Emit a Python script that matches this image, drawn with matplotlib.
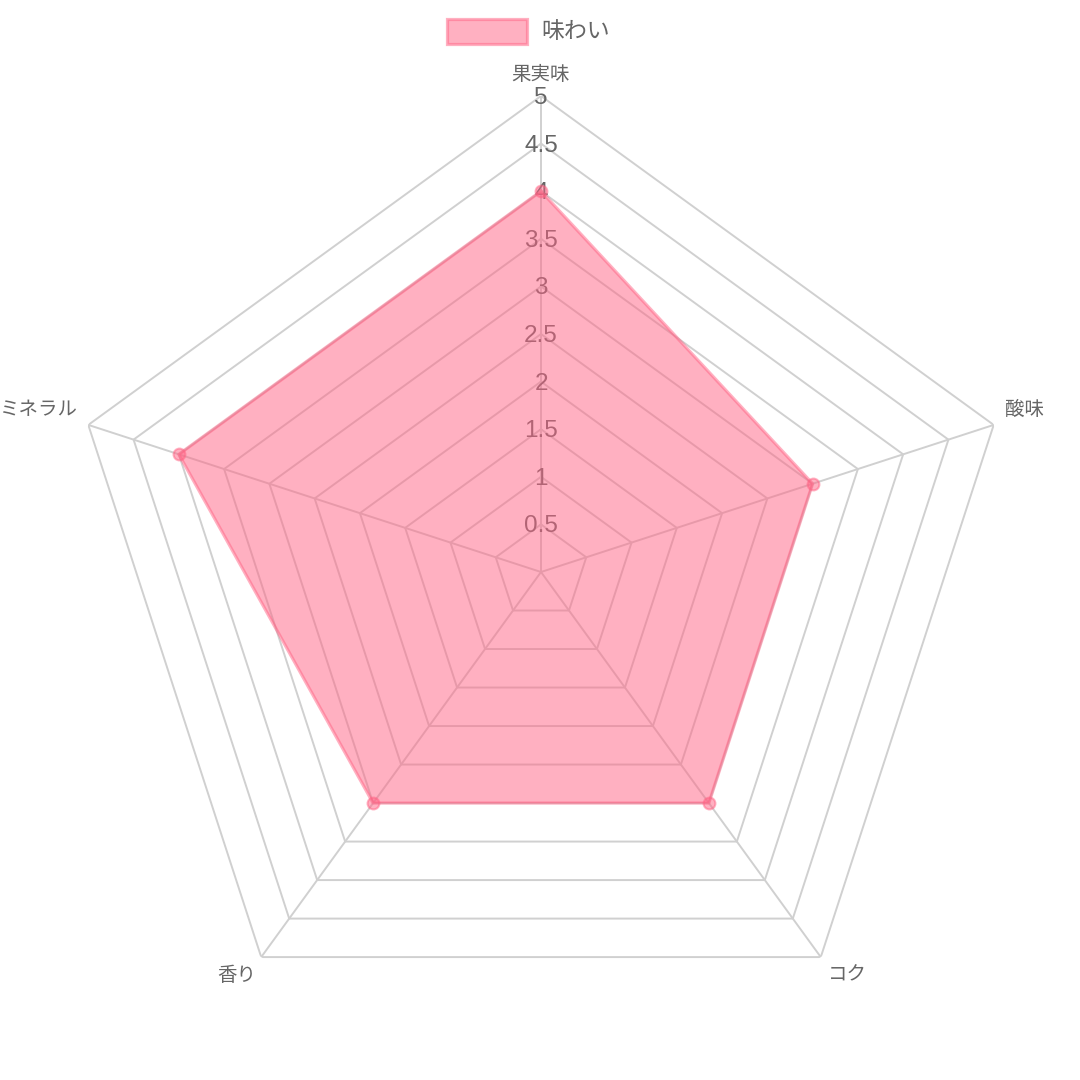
import numpy as np
import matplotlib
matplotlib.use('agg')
import matplotlib.pyplot as plt
from matplotlib.patches import Rectangle

# chart data
labels = ['果実味', '酸味', 'コク', '香り', 'ミネラル']
values = [4, 3, 3, 3, 4]
ticks = [0.5, 1, 1.5, 2, 2.5, 3, 3.5, 4, 4.5, 5]
tick_labels = ['0.5', '1', '1.5', '2', '2.5', '3', '3.5', '4', '4.5', '5']
series_name = '味わい'

jp = ['Noto Sans CJK JP', 'DejaVu Sans']
num = ['Liberation Sans', 'DejaVu Sans']
text_col = '#666666'
grid_col = '#d0d0d0'
fill_col = (1.0, 99 / 255, 132 / 255, 0.5)

fig = plt.figure(figsize=(10.8, 10.8), dpi=100)
# centre (541, 572) px, radius 476 px
cx, cy, rad = 541, 572, 476
ax = fig.add_axes([(cx - rad) / 1080, (1080 - cy - rad) / 1080,
                   2 * rad / 1080, 2 * rad / 1080], projection='polar')
ax.set_theta_offset(np.pi / 2)
ax.set_theta_direction(-1)
ax.set_ylim(0, 5)
ax.axis('off')

n = len(labels)
angles = np.arange(n) * 2 * np.pi / n
ring_ang = np.append(angles, angles[0])

# grid: rings and spokes
for t in ticks:
    ax.plot(ring_ang, [t] * (n + 1), color=grid_col, lw=1.4, zorder=0.5)
for a in angles:
    ax.plot([a, a], [0, 5], color=grid_col, lw=1.4, zorder=0.5)

# tick labels (drawn under the dataset)
for t, s in zip(ticks, tick_labels):
    ax.annotate(s, xy=(0, t), xytext=(0, -2), textcoords='offset pixels',
                ha='center', va='center', fontsize=17.5, color=text_col,
                family=num, zorder=1, annotation_clip=False)

# dataset
vals = np.append(values, values[0])
ax.fill(ring_ang, vals, facecolor=fill_col, edgecolor='none', zorder=2)
ax.plot(ring_ang, vals, color=(1.0, 99 / 255, 132 / 255, 0.5), lw=2.3, zorder=3)
ax.plot(angles, values, 'o', ms=8.5, mfc=fill_col,
        mec=(1.0, 99 / 255, 132 / 255, 0.5), mew=1.5, zorder=4)

# point labels
offsets = [(0, 21, 'center'), (11, 15, 'left'), (7, -18, 'left'),
           (-5, -18, 'right'), (-10, 15, 'right')]
for a, lab, (dx, dy, ha) in zip(angles, labels, offsets):
    ax.annotate(lab, xy=(a, 5), xytext=(dx, dy), textcoords='offset pixels',
                ha=ha, va='center', fontsize=14, color=text_col,
                family=jp, annotation_clip=False)

# legend
fig.patches.append(Rectangle((447 / 1080, (1080 - 44) / 1080), 80 / 1080, 25 / 1080,
                             transform=fig.transFigure, facecolor=fill_col,
                             edgecolor=(1.0, 99 / 255, 132 / 255, 0.5), lw=2.3))
fig.text(541 / 1080, (1080 - 31) / 1080, series_name, ha='left', va='center',
         fontsize=16.5, color=text_col, family=jp)

fig.savefig('out.png', dpi=100, facecolor='white')
